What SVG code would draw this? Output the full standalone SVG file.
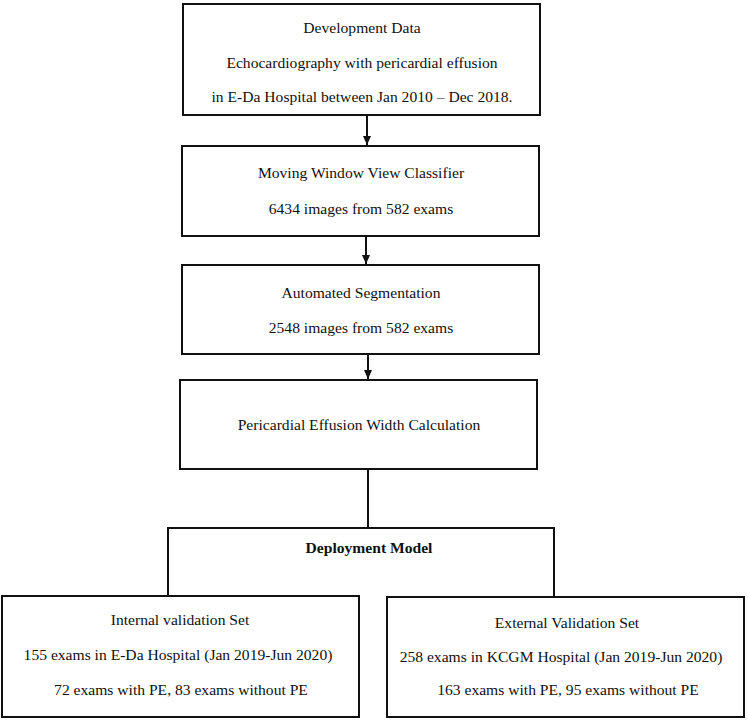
<svg xmlns="http://www.w3.org/2000/svg" width="748" height="721" viewBox="0 0 748 721">
<style>
.box{fill:#fff;stroke:#111;stroke-width:2}
.t{font-family:"Liberation Serif","Times New Roman",serif;font-size:15.6px;fill:#111;text-anchor:middle}
.b{font-weight:bold}
.c{fill:none;stroke:#111;stroke-width:2}
</style>
<defs>
<marker id="ah" markerUnits="userSpaceOnUse" markerWidth="10" markerHeight="10" refX="9" refY="5" orient="auto">
<path d="M0,1 L9,5 L0,9 Z" fill="#111"/>
</marker>
</defs>
<rect width="748" height="721" fill="#fff"/>
<g id="connectors">
<line class="c" x1="367" y1="115" x2="367" y2="145" marker-end="url(#ah)"/>
<line class="c" x1="366" y1="236" x2="366" y2="264" marker-end="url(#ah)"/>
<line class="c" x1="368" y1="354" x2="368" y2="379" marker-end="url(#ah)"/>
<line class="c" x1="368" y1="469" x2="368" y2="528"/>
<polyline class="c" points="168,597 168,528 554,528 554,597"/>
</g>
<g id="development">
<rect class="box" x="183" y="4" width="357" height="111"/>
<text class="t" x="362" y="33">Development Data</text>
<text class="t" x="362" y="68">Echocardiography with pericardial effusion</text>
<text class="t" x="362" y="102">in E-Da Hospital between Jan 2010 – Dec 2018.</text>
</g>
<g id="classifier">
<rect class="box" x="182" y="146" width="357" height="90"/>
<text class="t" x="361" y="178">Moving Window View Classifier</text>
<text class="t" x="361" y="214">6434 images from 582 exams</text>
</g>
<g id="segmentation">
<rect class="box" x="182" y="265" width="357" height="89"/>
<text class="t" x="361" y="298">Automated Segmentation</text>
<text class="t" x="361" y="333">2548 images from 582 exams</text>
</g>
<g id="width-calc">
<rect class="box" x="180" y="380" width="357" height="89"/>
<text class="t" x="359" y="430">Pericardial Effusion Width Calculation</text>
</g>
<g id="deployment">
<text class="t b" x="369" y="553">Deployment Model</text>
</g>
<g id="internal">
<rect class="box" x="2" y="596" width="357" height="121"/>
<text class="t" x="180" y="625">Internal validation Set</text>
<text class="t" x="178" y="660">155 exams in E-Da Hospital (Jan 2019-Jun 2020)</text>
<text class="t" x="181" y="695">72 exams with PE, 83 exams without PE</text>
</g>
<g id="external">
<rect class="box" x="387" y="597" width="357" height="120"/>
<text class="t" x="567" y="628">External Validation Set</text>
<text class="t" x="561" y="662">258 exams in KCGM Hospital (Jan 2019-Jun 2020)</text>
<text class="t" x="568" y="695">163 exams with PE, 95 exams without PE</text>
</g>
</svg>
